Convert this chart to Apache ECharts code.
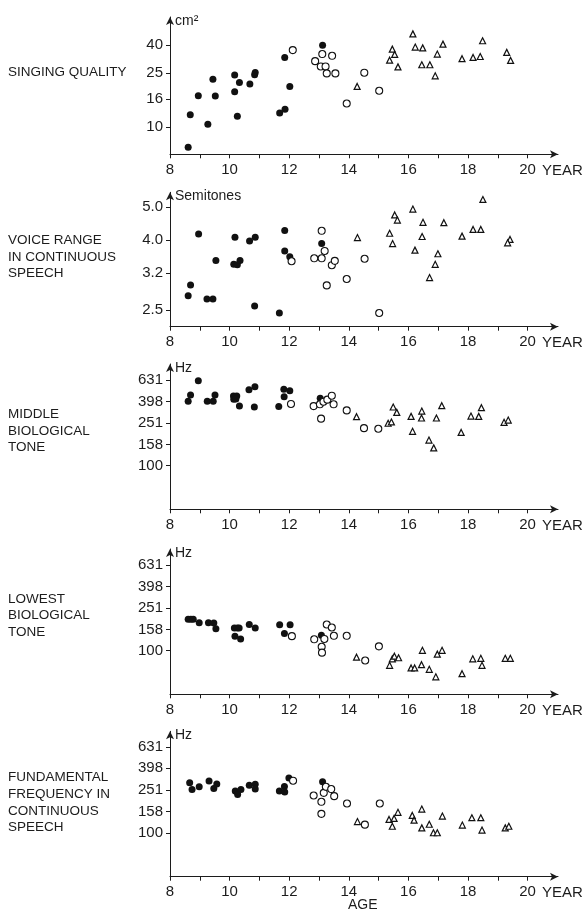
<!DOCTYPE html>
<html>
<head>
<meta charset="utf-8">
<script src="https://cdn.jsdelivr.net/npm/echarts@6/dist/echarts.min.js"></script>
<style>
  html, body { margin: 0; padding: 0; background: #fff; }
  #chart { width: 585px; height: 915px; }
</style>
</head>
<body>
<div id="chart"></div>
<script>
// ---- tick labels -------------------------------------------------------
const yearTicks  = [8, 9, 10, 11, 12, 13, 14, 15, 16, 17, 18, 19, 20];
const yearLabels = [8, 10, 12, 14, 16, 18, 20];
const singingTicks = [10, 16, 25, 40];
const rangeTicks   = [2.5, 3.2, 4.0, 5.0];
const hzTicks      = [100, 158, 251, 398, 631];

// ---- panel names and units ---------------------------------------------
const panelTitles = [
  'SINGING QUALITY',
  'VOICE RANGE\nIN CONTINUOUS\nSPEECH',
  'MIDDLE\nBIOLOGICAL\nTONE',
  'LOWEST\nBIOLOGICAL\nTONE',
  'FUNDAMENTAL\nFREQUENCY IN\nCONTINUOUS\nSPEECH'
];
const panelUnits = ['cm²', 'Semitones', 'Hz', 'Hz', 'Hz'];

// ---- measurements: [age in years, value] -------------------------------
// singing quality (cm²)
const singingChildren = [[8.61,7.1],[8.68,12.3],[8.95,17.0],[9.27,10.5],[9.44,22.5],[9.52,16.9],[10.17,24.1],[10.17,18.2],[10.26,12.0],[10.33,21.3],[10.68,20.7],[10.84,24.2],[10.86,25.2],[11.68,12.7],[11.86,13.5],[11.85,32.5],[12.02,19.9],[13.12,40.0]];
const singingTeens    = [[12.12,36.8],[12.87,30.5],[13.11,34.4],[13.06,27.9],[13.22,27.9],[13.26,24.8],[13.44,33.4],[13.55,24.8],[13.93,14.9],[14.52,25.1],[15.02,18.5]];
const singingAdults   = [[14.28,19.9],[15.37,31.0],[16.15,48.4],[15.46,37.4],[15.54,34.2],[15.65,27.7],[16.23,38.7],[16.48,38.2],[16.45,28.7],[16.72,28.7],[16.97,34.4],[17.16,40.7],[16.90,23.8],[17.80,31.8],[18.17,32.5],[18.41,33.0],[18.49,43.1],[19.30,35.4],[19.43,30.9]];

// voice range in continuous speech (semitones)
const rangeChildren = [[8.61,2.75],[8.69,2.96],[8.96,4.17],[9.24,2.69],[9.44,2.69],[9.54,3.49],[10.14,3.40],[10.18,4.08],[10.26,3.39],[10.35,3.49],[10.67,3.98],[10.84,2.57],[10.86,4.08],[11.67,2.45],[11.85,4.27],[11.85,3.72],[12.02,3.58],[13.09,3.91]];
const rangeTeens    = [[12.08,3.47],[12.84,3.54],[13.09,4.26],[13.09,3.54],[13.19,3.72],[13.26,2.95],[13.43,3.38],[13.53,3.48],[13.93,3.08],[14.53,3.53],[15.02,2.45]];
const rangeAdults   = [[14.29,4.07],[15.37,4.19],[18.50,5.26],[15.54,4.74],[15.63,4.58],[16.15,4.93],[16.49,4.51],[17.19,4.50],[15.47,3.91],[16.46,4.10],[16.22,3.74],[16.99,3.65],[16.90,3.40],[16.71,3.11],[17.80,4.11],[18.17,4.30],[18.43,4.30],[19.41,4.02],[19.33,3.93]];

// middle biological tone (Hz)
const middleChildren = [[8.61,401],[8.69,460],[8.95,626],[9.25,401],[9.45,401],[9.51,460],[10.13,450],[10.14,419],[10.24,450],[10.21,422],[10.33,362],[10.65,516],[10.85,550],[10.83,355],[11.65,359],[11.82,520],[12.02,505],[11.83,443],[13.04,428]];
const middleTeens    = [[12.06,379],[12.82,362],[13.03,376],[13.07,276],[13.15,398],[13.28,416],[13.43,453],[13.49,376],[13.93,330],[14.51,225],[14.99,222]];
const middleAdults   = [[14.26,288],[15.32,250],[15.43,257],[15.49,355],[15.61,316],[16.09,290],[16.14,210],[16.45,325],[16.44,280],[16.69,174],[16.85,147],[16.94,280],[17.12,365],[17.77,205],[18.10,292],[18.36,290],[18.45,350],[19.21,255],[19.35,268]];

// lowest biological tone (Hz)
const lowestChildren = [[8.61,197],[8.70,197],[8.78,197],[8.98,183],[9.29,183],[9.47,182],[9.54,161],[10.16,163],[10.26,163],[10.32,163],[10.18,137],[10.37,129],[10.66,176],[10.86,163],[11.68,175],[11.84,145],[12.03,175],[13.08,140]];
const lowestTeens    = [[12.09,137],[12.84,128],[13.09,109],[13.10,96],[13.18,129],[13.26,176],[13.43,165],[13.50,138],[13.93,138],[14.55,81],[15.01,110]];
const lowestAdults   = [[14.26,87],[15.37,73],[15.46,84],[15.53,89],[15.67,86],[16.09,69],[16.21,69],[16.47,101],[16.44,74],[16.70,67],[16.92,57],[16.97,93],[17.13,101],[17.80,61],[18.16,84],[18.43,85],[18.47,73],[19.25,85],[19.42,85]];

// fundamental frequency in continuous speech (Hz)
const speechChildren = [[8.66,292],[8.74,253],[8.98,268],[9.31,303],[9.47,258],[9.57,284],[10.19,244],[10.27,227],[10.38,253],[10.66,277],[10.86,282],[10.86,255],[11.67,244],[11.84,270],[11.85,239],[11.99,323],[13.12,298]];
const speechTeens    = [[12.13,305],[12.82,222],[13.08,194],[13.08,150],[13.16,235],[13.23,268],[13.41,255],[13.51,219],[13.94,187],[14.54,119],[15.04,187]];
const speechAdults   = [[14.29,127],[15.35,133],[15.46,115],[15.52,136],[15.65,155],[16.13,145],[16.19,131],[16.45,166],[16.45,111],[16.70,120],[16.84,100],[16.97,100],[17.14,143],[17.81,118],[18.13,138],[18.43,138],[18.47,106],[19.25,111],[19.37,115]];

// ---- assembly -----------------------------------------------------------
const FONT = '"Liberation Sans", Arial, Helvetica, sans-serif';
const INK = '#1c1c1c';

const panelData = [
  [singingChildren, singingTeens, singingAdults],
  [rangeChildren, rangeTeens, rangeAdults],
  [middleChildren, middleTeens, middleAdults],
  [lowestChildren, lowestTeens, lowestAdults],
  [speechChildren, speechTeens, speechAdults]
];
const panelTicks = [singingTicks, rangeTicks, hzTicks, hzTicks, hzTicks];
const panelDigits = [0, 1, 0, 0, 0];

// plot frames (pixels) and the logarithmic value span of each y axis
const frames = [
  { top: 17,    bottom: 154.3, yMin: 6.31, yMax: 64.4, titleY: 72 },
  { top: 192.3, bottom: 326.7, yMin: 2.234, yMax: 5.52, titleY: 257 },
  { top: 364,   bottom: 509.3, yMin: 39.1, yMax: 897, titleY: 431 },
  { top: 549,   bottom: 694.3, yMin: 39.1, yMax: 897, titleY: 615.5 },
  { top: 731.3, bottom: 876.7, yMin: 39.0, yMax: 879, titleY: 802.5 }
];
const plotLeft = 170, plotRight = 558;

const grids = [], xAxes = [], yAxes = [], series = [], graphics = [];

frames.forEach((f, i) => {
  grids.push({ left: plotLeft, width: plotRight - plotLeft, top: f.top, height: f.bottom - f.top, containLabel: false });

  xAxes.push({
    gridIndex: i, type: 'value', min: 8, max: 8 + (plotRight - plotLeft) / 29.8,
    axisLine: { show: true, onZero: false, lineStyle: { color: INK, width: 1 }, symbol: ['none', 'arrow'], symbolSize: [6, 8] },
    axisTick: { show: true, inside: false, length: 4, customValues: yearTicks, lineStyle: { color: INK, width: 1 } },
    axisLabel: { customValues: yearLabels, margin: 8, fontSize: 15, color: INK, fontFamily: FONT },
    splitLine: { show: false },
    name: 'YEAR', nameLocation: 'end', nameGap: -16,
    nameTextStyle: { fontSize: 15, color: INK, fontFamily: FONT, align: 'left', verticalAlign: 'top', padding: [9, 0, 0, 0] }
  });

  const ticks = panelTicks[i];
  const digits = panelDigits[i];
  yAxes.push({
    gridIndex: i, type: 'log', logBase: 10, min: f.yMin, max: f.yMax,
    axisLine: { show: true, onZero: false, lineStyle: { color: INK, width: 1 }, symbol: ['none', 'arrow'], symbolSize: [6, 8] },
    axisTick: { show: true, inside: false, length: 4, customValues: ticks, lineStyle: { color: INK, width: 1 } },
    axisLabel: {
      customValues: ticks, margin: 7, fontSize: 15, color: INK, fontFamily: FONT,
      formatter: v => {
        let best = ticks[0];
        ticks.forEach(t => { if (Math.abs(t - v) < Math.abs(best - v)) best = t; });
        return best.toFixed(digits);
      }
    },
    splitLine: { show: false },
    name: panelUnits[i], nameLocation: 'end', nameGap: 3,
    nameTextStyle: { fontSize: 14, color: INK, fontFamily: FONT, align: 'left', verticalAlign: 'top', padding: [0, 0, 0, 5] }
  });

  const [kids, teens, adults] = panelData[i];
  series.push({
    type: 'scatter', xAxisIndex: i, yAxisIndex: i, data: kids,
    symbol: 'circle', symbolSize: 7, itemStyle: { color: '#111', opacity: 1 }
  });
  series.push({
    type: 'scatter', xAxisIndex: i, yAxisIndex: i, data: teens,
    symbol: 'circle', symbolSize: 7, itemStyle: { color: '#fff', borderColor: '#111', borderWidth: 1.1, opacity: 1 }
  });
  series.push({
    type: 'scatter', xAxisIndex: i, yAxisIndex: i, data: adults,
    symbol: 'triangle', symbolSize: 6, itemStyle: { color: '#fff', borderColor: '#111', borderWidth: 1.2, opacity: 1 }
  });

  graphics.push({
    type: 'text', left: 8, top: f.titleY - panelTitles[i].split('\n').length * 16.7 / 2,
    style: { text: panelTitles[i], font: '13.5px ' + FONT, fill: INK, lineHeight: 16.7 }
  });
});

graphics.push({
  type: 'text', left: 348, top: 898,
  style: { text: 'AGE', font: '14px ' + FONT, fill: INK }
});

const chart = echarts.init(document.getElementById('chart'), null, { renderer: 'canvas' });
chart.setOption({
  animation: false,
  backgroundColor: '#fff',
  grid: grids,
  xAxis: xAxes,
  yAxis: yAxes,
  series: series,
  graphic: graphics
});
</script>
</body>
</html>
